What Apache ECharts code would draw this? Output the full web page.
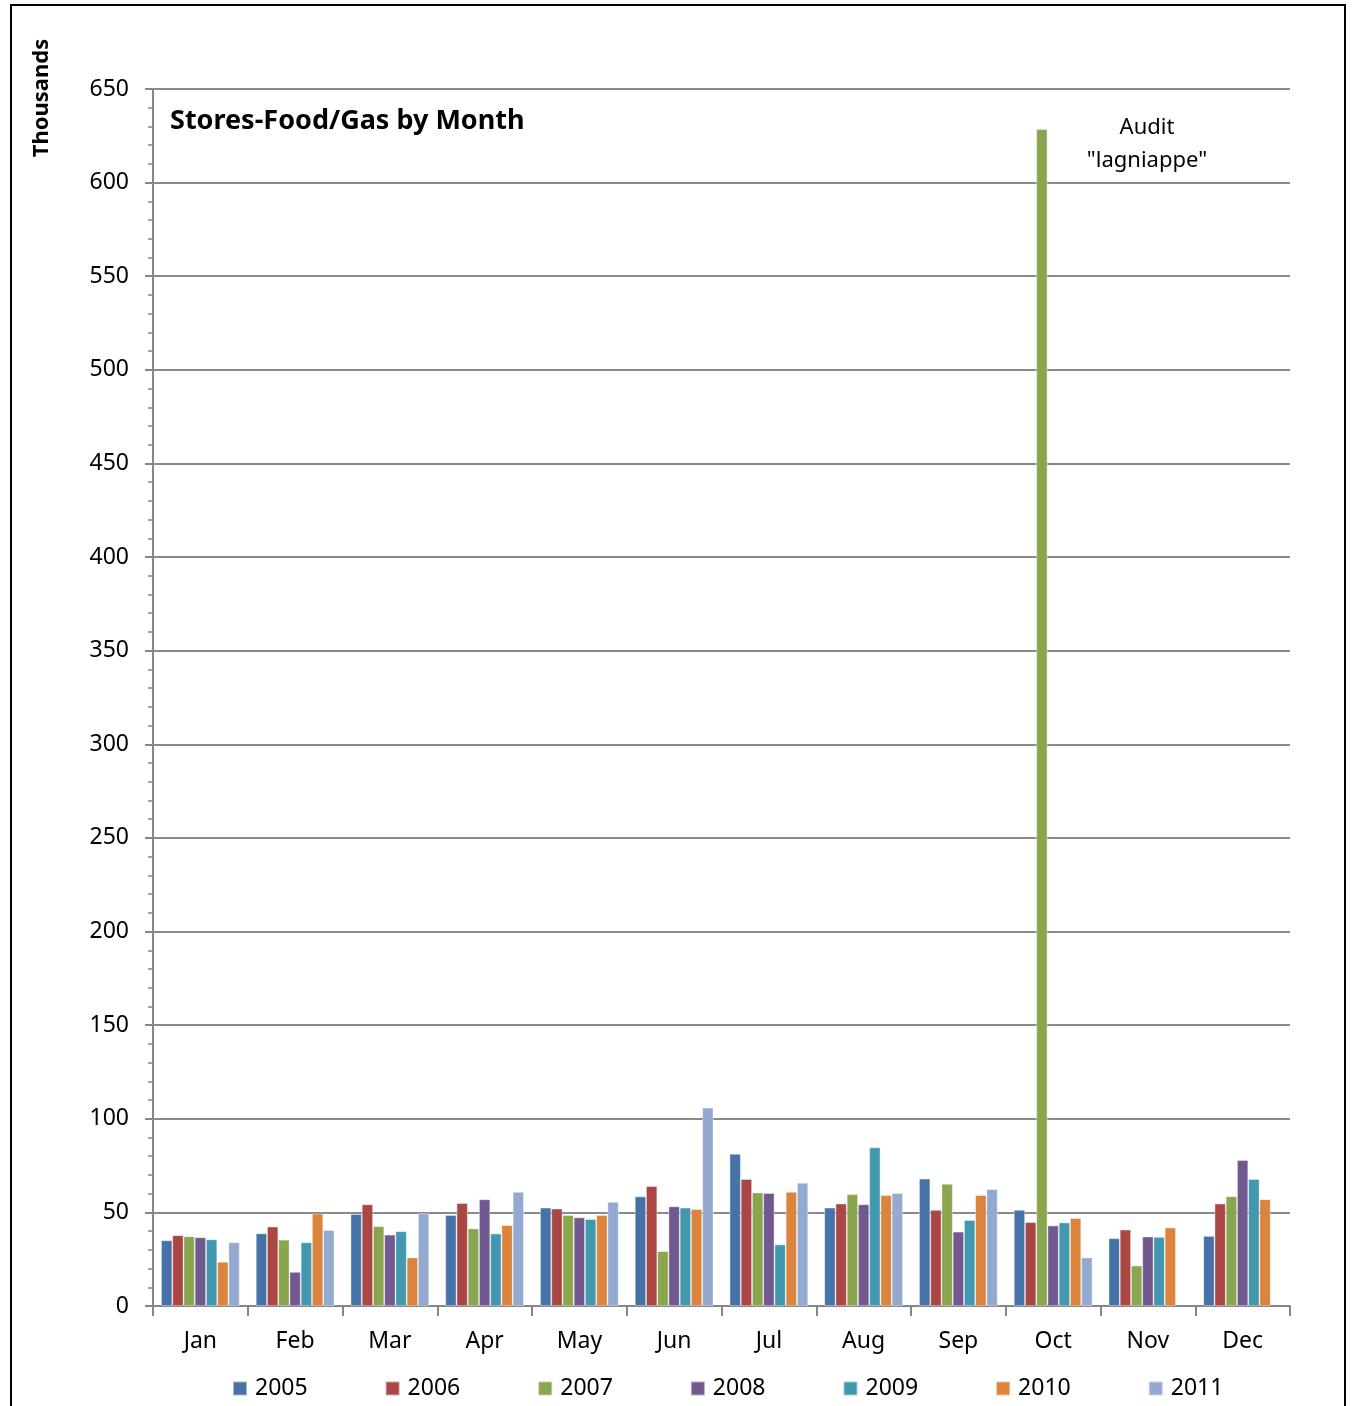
<!DOCTYPE html>
<html><head><meta charset="utf-8">
<script src="https://cdn.jsdelivr.net/npm/echarts@6/dist/echarts.min.js"></script>
<style>
html,body{margin:0;padding:0;background:#fff;}
#frame{position:absolute;left:10px;top:4px;width:1336px;height:1420px;border:2px solid #000;box-sizing:border-box;}
#c{position:absolute;left:0;top:0;width:1353px;height:1406px;}
</style></head>
<body><div id="frame"></div><div id="c"></div>
<script>
const months = ['Jan','Feb','Mar','Apr','May','Jun','Jul','Aug','Sep','Oct','Nov','Dec'];
const years = ['2005','2006','2007','2008','2009','2010','2011'];
const yTicks = [0,50,100,150,200,250,300,350,400,450,500,550,600,650];
const s2005 = [35.1,38.8,49.1,48.6,52.5,58.5,81.3,52.5,68.0,51.3,36.2,37.4];
const s2006 = [37.8,42.4,54.3,54.9,52.0,64.0,67.8,54.7,51.3,44.8,40.8,54.7];
const s2007 = [37.2,35.4,42.6,41.4,48.6,29.3,60.6,59.7,65.3,628.6,21.6,58.6];
const s2008 = [36.7,18.2,38.1,57.0,47.3,53.2,60.3,54.3,39.7,43.0,37.1,77.9];
const s2009 = [35.6,34.0,39.9,38.7,46.4,52.5,32.9,84.7,45.9,44.6,36.9,67.8];
const s2010 = [23.6,49.3,25.9,43.2,48.6,51.8,61.0,59.2,59.2,46.9,41.9,57.0];
const s2011 = [34.0,40.6,49.5,61.0,55.6,105.9,65.8,60.3,62.4,25.9,null,null];
const seriesData = [s2005,s2006,s2007,s2008,s2009,s2010,s2011];
const colors = ['#4572A7','#AA4643','#89A54E','#71588F','#4198AF','#DB843D','#93A9CF'];
const FONT = 'Noto Sans';

const chart = echarts.init(document.getElementById('c'));
chart.setOption({
  animation:false,
  textStyle:{fontFamily:FONT},
  color:colors,
  grid:{left:153,right:63,top:89,bottom:100},
  legend:{
    bottom:1,left:227,itemWidth:14,itemHeight:14,itemGap:77,icon:'rect',
    textStyle:{fontSize:23,color:'#000',fontFamily:FONT,padding:[0,0,0,3]},
    data:years
  },
  xAxis:{
    type:'category',data:months,
    axisLine:{lineStyle:{color:'#868686',width:2}},
    axisTick:{show:true,length:10,lineStyle:{color:'#868686',width:2}},
    axisLabel:{fontSize:23,color:'#000',margin:24,fontFamily:FONT}
  },
  yAxis:{
    type:'value',min:yTicks[0],max:yTicks[yTicks.length-1],interval:50,
    axisLine:{show:true,lineStyle:{color:'#868686',width:2}},
    axisTick:{show:true,length:8,lineStyle:{color:'#868686',width:2}},
    minorTick:{show:true,splitNumber:5,length:5,lineStyle:{color:'#868686',width:1.5}},
    splitLine:{lineStyle:{color:'#8a8a8a',width:2}},
    axisLabel:{fontSize:23,color:'#000',margin:24,fontFamily:FONT}
  },
  graphic:[
    {type:'text',left:170,top:108,style:{text:'Stores-Food/Gas by Month',font:'bold 27px "Noto Sans"',fill:'#000'}},
    {type:'text',x:42,y:98,rotation:Math.PI/2,style:{text:'Thousands',font:'bold 22px "Noto Sans"',fill:'#000',textAlign:'center',textVerticalAlign:'middle'}},
    {type:'text',x:1147,y:128,style:{text:'Audit',font:'22px "Noto Sans"',fill:'#000',textAlign:'center',textVerticalAlign:'middle'}},
    {type:'text',x:1147,y:161,style:{text:'"lagniappe"',font:'22px "Noto Sans"',fill:'#000',textAlign:'center',textVerticalAlign:'middle'}}
  ],
  series: years.map((y,i)=>({
    name:y,type:'bar',data:seriesData[i],barGap:'0%',barCategoryGap:'17%',
    itemStyle:{color:colors[i],borderColor:'rgba(255,255,255,0.5)',borderWidth:0.8}
  }))
});
</script></body></html>
